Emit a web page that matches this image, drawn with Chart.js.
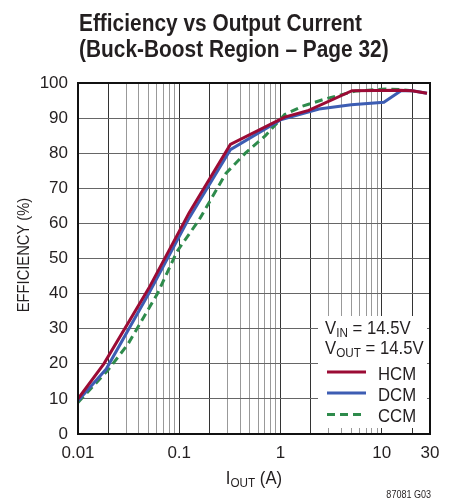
<!DOCTYPE html>
<html>
<head>
<meta charset="utf-8">
<script src="https://cdn.jsdelivr.net/npm/chart.js@4.4.0/dist/chart.umd.min.js"></script>
<style>
  html, body { margin: 0; padding: 0; background: #fff; }
</style>
</head>
<body>
<canvas id="chart" width="451" height="502"></canvas>
<script>
// data
const hcmCurrent = [0.01, 0.018, 0.05, 0.125, 0.32, 1.1, 1.9, 5.1, 15, 20, 28];
const hcmEff     = [10,   20,    41.5, 63,    82.5, 90.3, 92.2, 97.8, 97.9, 97.8, 97.1];

const dcmCurrent = [0.01, 0.019, 0.05, 0.125, 0.32, 1.0,  2.4,  5,    10.5, 15.5, 20,   28];
const dcmEff     = [9.5,  18.5,  40,   61.5,  81,   89.5, 92.6, 93.8, 94.5, 97.8, 97.8, 97.1];

const ccmCurrent = [0.01, 0.0195, 0.031, 0.045, 0.061, 0.095, 0.157, 0.29, 0.45, 0.71, 1.1, 1.65, 2.8,  5.5,  11,   16,   20];
const ccmEff     = [9,    18,     25.5,  33.5,  40,    52,    61,    74.3, 80,   85,   91,  93.4, 95.5, 97.7, 98.3, 98.1, 97.8];

const xTickLabels = [0.01, 0.1, 1, 10, 30];
const xDecades = [0.01, 0.1, 1, 10];
const xMin = 0.01, xMax = 30;
const yMin = 0, yMax = 100, yStep = 10;

const FONT = "'Liberation Sans', Arial, sans-serif";
const NARROW = 0.88;   // squeeze to look like a condensed face
const INK = '#231f20';

function toPoints(xs, ys) {
    return xs.map((x, i) => ({ x: x, y: ys[i] }));
}

// gridline positions 1..9 per decade
function logGrid() {
    const out = [];
    xDecades.forEach(d => {
        for (let m = 1; m <= 9; m++) {
            const v = Number((m * d).toPrecision(3));
            if (v <= xMax) out.push(v);
        }
    });
    if (out[out.length - 1] !== xMax) out.push(xMax);
    return out;
}

function isDark(v) {
    const l = Math.log10(v);
    const r = l - Math.floor(l);
    return r < 1e-6 || Math.abs(r - Math.log10(2)) < 1e-6;
}

// draw text squeezed horizontally, returns drawn width
function narrowText(ctx, txt, x, y, font, sx) {
    ctx.save();
    ctx.font = font;
    ctx.translate(x, y);
    ctx.scale(sx, 1);
    ctx.fillText(txt, 0, 0);
    const w = ctx.measureText(txt).width * sx;
    ctx.restore();
    return w;
}

function narrowWidth(ctx, txt, font, sx) {
    ctx.save();
    ctx.font = font;
    const w = ctx.measureText(txt).width * sx;
    ctx.restore();
    return w;
}

const decorations = {
    id: 'decorations',
    afterDraw(chart) {
        const ctx = chart.ctx;
        const a = chart.chartArea;
        ctx.save();

        // frame
        ctx.strokeStyle = '#111';
        ctx.lineWidth = 2;
        ctx.strokeRect(a.left, a.top, a.right - a.left, a.bottom - a.top);

        ctx.fillStyle = INK;
        ctx.textAlign = 'left';
        ctx.textBaseline = 'alphabetic';

        // title, squeezed to the reference width
        const tFont = "bold 23px " + FONT;
        const t1 = 'Efficiency vs Output Current';
        const t2 = '(Buck-Boost Region \u2013 Page 32)';
        const sx = 283 / narrowWidth(ctx, t1, tFont, 1);
        narrowText(ctx, t1, 79, 31, tFont, sx);
        narrowText(ctx, t2, 79, 57, tFont, sx);

        // y axis title
        ctx.save();
        ctx.translate(28.5, 255);
        ctx.rotate(-Math.PI / 2);
        const yFont = "16px " + FONT;
        const yw = narrowWidth(ctx, 'EFFICIENCY (%)', yFont, 0.92);
        narrowText(ctx, 'EFFICIENCY (%)', -yw / 2, 0, yFont, 0.92);
        ctx.restore();

        // x axis title with subscript
        const parts = [['I', "19px ", 0, NARROW], ['OUT', "13px ", 3, 0.9], [' (A)', "19px ", 0, NARROW]];
        let total = 0;
        parts.forEach(p => { total += narrowWidth(ctx, p[0], p[1] + FONT, p[3]); });
        let x = (a.left + a.right) / 2 - total / 2;
        parts.forEach(p => {
            x += narrowText(ctx, p[0], x, 484 + p[2], p[1] + FONT, p[3]);
        });

        // footnote
        const fn = '87081 G03';
        const fw = narrowWidth(ctx, fn, "11px " + FONT, 0.82);
        narrowText(ctx, fn, 431 - fw, 498, "11px " + FONT, 0.82);
        ctx.restore();
    },
    afterDatasetsDraw(chart) {
        const ctx = chart.ctx;
        ctx.save();
        // legend box
        ctx.fillStyle = '#fff';
        ctx.fillRect(318, 316, 109, 112);
        ctx.fillStyle = INK;
        ctx.textAlign = 'left';
        ctx.textBaseline = 'alphabetic';

        const sub = (main, subTxt, rest, x, y) => {
            x += narrowText(ctx, main, x, y, "19px " + FONT, NARROW);
            x += narrowText(ctx, subTxt, x, y + 3, "13px " + FONT, 0.9);
            narrowText(ctx, rest, x, y, "19px " + FONT, NARROW);
        };
        sub('V', 'IN', ' = 14.5V', 325, 334);
        sub('V', 'OUT', ' = 14.5V', 325, 354);

        const rowY = [372, 393, 414.5];
        chart.data.datasets.forEach((ds, i) => {
            const y = rowY[i];
            ctx.strokeStyle = ds.borderColor;
            ctx.lineWidth = 3;
            ctx.setLineDash(ds.borderDash || []);
            ctx.beginPath();
            ctx.moveTo(327, y);
            ctx.lineTo(366, y);
            ctx.stroke();
            ctx.setLineDash([]);
            narrowText(ctx, ds.label, 378, y + 7.5, "19px " + FONT, NARROW);
        });
        ctx.restore();
    }
};

new Chart(document.getElementById('chart'), {
    type: 'line',
    data: {
        datasets: [
            { label: 'HCM', data: toPoints(hcmCurrent, hcmEff), borderColor: '#9b0b35', borderWidth: 3 },
            { label: 'DCM', data: toPoints(dcmCurrent, dcmEff), borderColor: '#3d5db3', borderWidth: 3 },
            { label: 'CCM', data: toPoints(ccmCurrent, ccmEff), borderColor: '#2e8b4c', borderWidth: 3, borderDash: [8, 5] }
        ]
    },
    options: {
        responsive: false,
        animation: false,
        devicePixelRatio: 1,
        elements: { point: { radius: 0 }, line: { tension: 0 } },
        layout: { padding: { left: 0, top: 83, right: 21, bottom: 0 } },
        plugins: { legend: { display: false }, tooltip: { enabled: false } },
        scales: {
            x: {
                type: 'logarithmic',
                min: xMin,
                max: xMax,
                afterBuildTicks: (scale) => { scale.ticks = logGrid().map(v => ({ value: v })); },
                afterFit: (scale) => { scale.height = 68; },
                ticks: {
                    autoSkip: false,
                    maxRotation: 0,
                    padding: 9,
                    color: INK,
                    font: { family: FONT, size: 17 },
                    callback: (v) => xTickLabels.includes(v) ? String(v) : ''
                },
                grid: {
                    drawTicks: false,
                    lineWidth: 1,
                    color: (c) => isDark(c.tick.value) ? '#333' : '#999'
                },
                border: { display: false }
            },
            y: {
                min: yMin,
                max: yMax,
                afterFit: (scale) => { scale.width = 78; },
                ticks: {
                    stepSize: yStep,
                    padding: 10,
                    color: INK,
                    font: { family: FONT, size: 17 }
                },
                grid: { drawTicks: false, lineWidth: 1, color: '#666' },
                border: { display: false }
            }
        }
    },
    plugins: [decorations]
});
</script>
</body>
</html>
